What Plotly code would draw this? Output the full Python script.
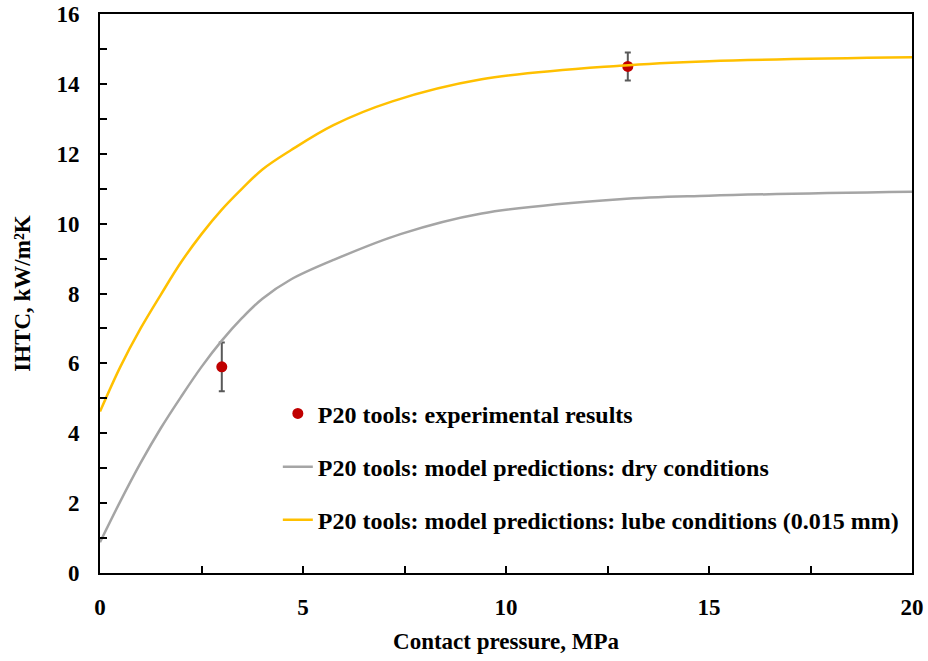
import plotly.graph_objects as go

# Measured interfacial heat transfer coefficient (P20 tools)
exp_pressure = [3, 13]
exp_ihtc = [5.9, 14.5]
exp_err = [0.7, 0.4]

# Model predictions, dry contact
dry_pressure = [0, 0.5, 1, 1.5, 2, 2.5, 3, 3.5, 4, 4.7, 5.75, 7.4, 9.4, 12.8, 15, 20]
dry_ihtc = [0.88, 2.05, 3.15, 4.15, 5.05, 5.9, 6.65, 7.3, 7.85, 8.4, 8.96, 9.7, 10.29, 10.70, 10.80, 10.91]

# Model predictions, lubricated contact (0.015 mm)
lube_pressure = [0, 0.5, 1, 1.5, 2, 2.5, 3, 3.5, 4, 4.7, 5.75, 7.2, 9.4, 12.8, 15, 20]
lube_ihtc = [4.62, 5.9, 7.0, 7.97, 8.9, 9.7, 10.4, 11.0, 11.55, 12.1, 12.82, 13.5, 14.13, 14.52, 14.65, 14.76]

x_ticks = [0, 5, 10, 15, 20]
y_ticks = [0, 2, 4, 6, 8, 10, 12, 14, 16]

FONT = "Liberation Serif"

fig = go.Figure()

fig.add_trace(go.Scatter(
    x=exp_pressure, y=exp_ihtc, mode="markers",
    name="<b>P20 tools: experimental results</b>",
    legendgroup="a",
    marker=dict(color="#C00000", size=11),
    error_y=dict(type="data", array=exp_err, visible=True,
                 color="#595959", thickness=2, width=3),
))
fig.add_trace(go.Scatter(
    x=dry_pressure, y=dry_ihtc, mode="lines",
    name="<b>P20 tools: model predictions: dry conditions</b>",
    legendgroup="b",
    line=dict(color="#A5A5A5", width=2.5, shape="spline", smoothing=1.0),
))
fig.add_trace(go.Scatter(
    x=lube_pressure, y=lube_ihtc, mode="lines",
    name="<b>P20 tools: model predictions: lube conditions (0.015 mm)</b>",
    legendgroup="c",
    line=dict(color="#FFC000", width=2.5, shape="spline", smoothing=1.0),
))

axis_common = dict(
    showline=True, linecolor="black", linewidth=2, mirror=True,
    ticks="inside", ticklen=7, tickwidth=2, tickcolor="black",
    showgrid=False, zeroline=False, automargin=False,
    tickfont=dict(family=FONT, size=23, color="black", weight="bold"),
)

fig.update_xaxes(
    range=[0, 20], tickvals=x_ticks, ticktext=[str(v) for v in x_ticks],
    minor=dict(dtick=2.5, tick0=0, ticks="inside", ticklen=7, tickwidth=2, tickcolor="black"),
    title=dict(text="<b>Contact pressure, MPa</b>", standoff=14,
               font=dict(family=FONT, size=23, color="black")),
    ticklabelstandoff=12,
    **axis_common,
)
fig.update_yaxes(
    range=[0, 16], tickvals=y_ticks, ticktext=[str(v) for v in y_ticks],
    minor=dict(dtick=1, tick0=0, ticks="inside", ticklen=7, tickwidth=2, tickcolor="black"),
    title=dict(text="<b>IHTC, kW/m²K</b>", standoff=19,
               font=dict(family=FONT, size=23, color="black")),
    ticklabelstandoff=14,
    **axis_common,
)

fig.update_layout(
    width=928, height=661,
    margin=dict(l=100, r=16, t=14, b=88),
    paper_bgcolor="white", plot_bgcolor="white",
    font=dict(family=FONT, color="black"),
    legend=dict(
        x=0.219, y=0.325, xanchor="left", yanchor="top",
        bgcolor="rgba(0,0,0,0)",
        font=dict(family=FONT, size=24, color="black"),
        tracegroupgap=19,
    ),
)

fig.write_html("out.html")
